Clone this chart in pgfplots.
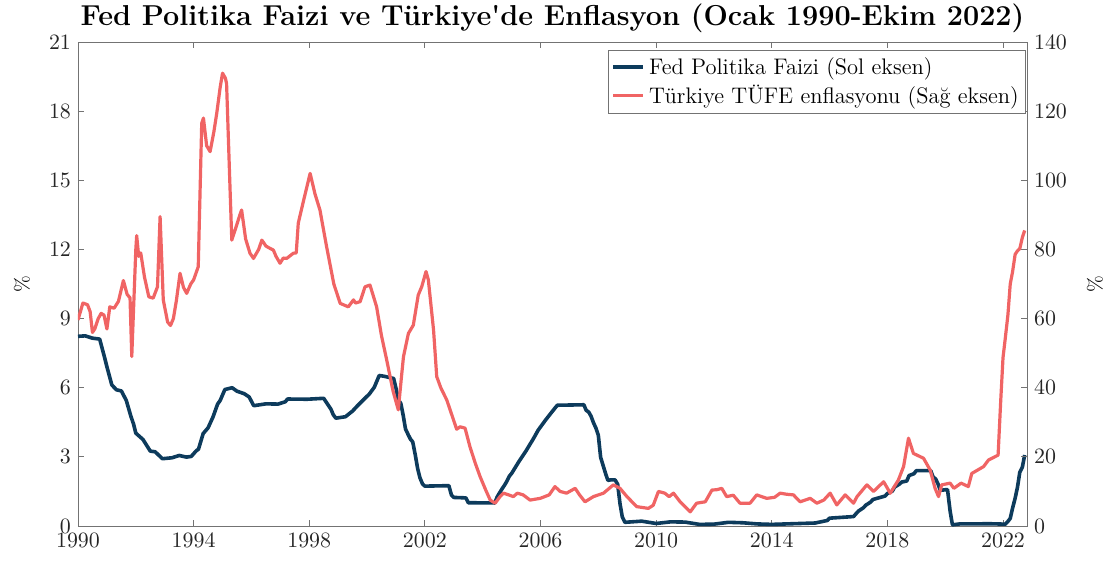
\documentclass[border=0pt]{standalone}
\usepackage{fontspec}
\usepackage{pgfplots}
\usepackage{pgfplotstable}
\pgfplotsset{compat=1.18}
\definecolor{fedblue}{HTML}{0D3B5C}
\definecolor{tred}{HTML}{F06464}

\pgfplotstableread{
x y
1990.00 8.23
1990.25 8.25
1990.50 8.15
1990.75 8.11
1990.92 7.31
1991.00 6.91
1991.17 6.12
1991.33 5.91
1991.50 5.86
1991.67 5.45
1991.83 4.76
1991.92 4.43
1992.00 4.03
1992.25 3.75
1992.50 3.25
1992.67 3.22
1992.92 2.92
1993.25 2.96
1993.50 3.06
1993.75 2.99
1993.92 3.02
1994.08 3.25
1994.17 3.34
1994.33 4.01
1994.50 4.26
1994.67 4.73
1994.83 5.29
1994.92 5.45
1995.08 5.92
1995.33 6.00
1995.50 5.85
1995.75 5.74
1995.92 5.60
1996.08 5.22
1996.50 5.30
1996.92 5.29
1997.17 5.39
1997.25 5.51
1997.92 5.50
1998.50 5.54
1998.75 5.07
1998.83 4.83
1998.92 4.68
1999.25 4.74
1999.50 4.99
1999.67 5.22
1999.83 5.42
2000.08 5.73
2000.25 6.02
2000.42 6.53
2000.58 6.50
2000.92 6.40
2001.00 5.98
2001.08 5.49
2001.17 5.31
2001.25 4.80
2001.33 4.21
2001.42 3.97
2001.50 3.77
2001.58 3.65
2001.67 3.07
2001.75 2.49
2001.83 2.09
2001.92 1.82
2002.00 1.73
2002.83 1.75
2002.92 1.34
2003.00 1.24
2003.42 1.22
2003.50 1.01
2004.42 1.00
2004.50 1.26
2004.58 1.43
2004.67 1.61
2004.75 1.76
2004.83 1.93
2004.92 2.16
2005.00 2.28
2005.25 2.79
2005.50 3.26
2005.75 3.78
2005.92 4.16
2006.17 4.59
2006.42 4.99
2006.58 5.24
2007.50 5.26
2007.58 5.02
2007.67 4.94
2007.75 4.76
2007.83 4.49
2007.92 4.24
2008.00 3.94
2008.08 2.98
2008.17 2.61
2008.25 2.28
2008.33 1.98
2008.42 2.00
2008.58 2.00
2008.67 1.81
2008.75 0.97
2008.83 0.39
2008.92 0.16
2009.50 0.21
2010.00 0.11
2010.50 0.18
2011.00 0.17
2011.50 0.07
2012.00 0.08
2012.50 0.16
2013.00 0.14
2013.50 0.09
2014.00 0.07
2014.50 0.09
2015.00 0.11
2015.50 0.13
2015.92 0.24
2016.00 0.34
2016.83 0.41
2016.92 0.54
2017.00 0.65
2017.17 0.79
2017.25 0.90
2017.42 1.04
2017.50 1.15
2017.92 1.30
2018.00 1.41
2018.17 1.51
2018.25 1.69
2018.42 1.82
2018.50 1.91
2018.67 1.95
2018.75 2.19
2018.92 2.27
2019.00 2.40
2019.50 2.40
2019.58 2.13
2019.67 2.04
2019.75 1.83
2019.83 1.55
2020.08 1.58
2020.17 0.65
2020.25 0.05
2020.50 0.09
2021.00 0.09
2021.50 0.10
2022.08 0.08
2022.17 0.20
2022.25 0.33
2022.33 0.77
2022.42 1.21
2022.50 1.68
2022.58 2.33
2022.67 2.56
2022.75 3.08
}\fedtable

\pgfplotstableread{
x y
1990.00 59.6
1990.17 64.5
1990.33 64
1990.42 62
1990.50 56
1990.58 57
1990.70 60
1990.80 61.5
1990.90 61
1991.00 57
1991.10 63.4
1991.25 63
1991.40 65
1991.57 71
1991.70 67
1991.80 66
1991.86 49
1992.00 80
1992.03 84
1992.10 78
1992.17 79
1992.30 72
1992.45 66.3
1992.60 65.9
1992.75 69.2
1992.84 89.5
1992.95 65.4
1993.10 59
1993.20 58
1993.30 60
1993.40 65
1993.53 73.1
1993.65 69
1993.76 67.3
1993.90 70
1994.00 71.2
1994.16 75
1994.28 116.5
1994.34 118
1994.45 110
1994.57 108.3
1994.70 114
1994.80 119.4
1994.92 127
1995.00 131
1995.10 129.5
1995.14 128
1995.25 100
1995.32 82.7
1995.45 86
1995.60 90
1995.66 91.4
1995.80 83
1995.95 78.9
1996.07 77.4
1996.25 80
1996.36 82.7
1996.50 81
1996.60 80.5
1996.76 79.8
1996.85 78
1996.99 76
1997.10 77.5
1997.22 77.4
1997.45 78.9
1997.55 79
1997.62 87.6
1997.80 94
1998.03 102
1998.20 96
1998.37 91.4
1998.60 80.8
1998.85 70
1999.07 64.4
1999.35 63.4
1999.53 65.4
1999.60 64.5
1999.76 64.9
1999.93 69.2
2000.10 69.7
2000.20 67
2000.33 63.4
2000.50 55
2000.68 48
2000.90 39
2001.08 33.6
2001.20 44
2001.26 49
2001.43 55.7
2001.60 58.1
2001.77 66.8
2001.89 69.2
2002.04 73.6
2002.12 71.2
2002.30 56.7
2002.41 43.2
2002.55 40
2002.76 36.4
2002.99 30.7
2003.10 28
2003.22 28.7
2003.39 28.3
2003.56 22.9
2003.75 18
2003.91 14.3
2004.10 10.5
2004.26 7.5
2004.43 6.6
2004.60 8.5
2004.72 9.5
2004.90 9
2005.06 8.5
2005.20 9.5
2005.40 9.0
2005.64 7.5
2005.99 8.0
2006.30 9
2006.50 11.4
2006.68 10
2006.90 9.5
2007.20 10.9
2007.35 9
2007.54 7
2007.83 8.5
2008.18 9.5
2008.52 11.9
2008.75 10.9
2008.99 8.5
2009.33 5.6
2009.73 5.1
2009.90 6
2010.08 10
2010.30 9.5
2010.45 8.5
2010.60 9.5
2010.83 7
2011.18 4.1
2011.40 6.6
2011.70 7
2011.93 10.4
2012.10 10.5
2012.27 10.9
2012.44 8.5
2012.67 8.9
2012.90 6.6
2013.25 6.6
2013.48 9
2013.65 8.5
2013.83 8
2014.10 8.3
2014.29 9.5
2014.50 9.2
2014.75 9
2014.98 7
2015.33 8.0
2015.56 6.6
2015.80 7.5
2016.02 9.5
2016.25 6.1
2016.54 9
2016.83 6.6
2016.95 8.5
2017.29 11.9
2017.52 10
2017.87 12.8
2018.10 9.5
2018.38 13.3
2018.56 17.2
2018.73 25.4
2018.90 21
2019.25 19.6
2019.48 16.2
2019.65 10.9
2019.77 8.5
2019.88 11.9
2020.17 12.4
2020.30 10.9
2020.55 12.4
2020.80 11.4
2020.92 15.2
2021.33 17.2
2021.50 19.1
2021.83 20.5
2021.92 36.1
2022.00 48.7
2022.08 54.4
2022.17 61.1
2022.25 70.0
2022.33 73.5
2022.42 78.6
2022.50 79.6
2022.58 80.2
2022.67 83.5
2022.75 85.5
}\cpitable

\begin{document}
\begin{tikzpicture}
\pgfplotsset{
  base/.style={
    scale only axis, width=474.5pt, height=242pt,
    xmin=1990, xmax=2022.83,
    xtick={1990,1994,...,2022},
    tick align=inside, major tick length=3pt,
    axis line style={black!55},
    every tick/.style={black!55, line width=0.4pt},
    ticklabel style={font=\fontsize{11.25}{13}\selectfont, text=black!85},
    label style={font=\fontsize{12}{14}\selectfont, text=black!85},
    /pgf/number format/1000 sep={},
  }
}
\useasboundingbox (-39pt,-21.5pt) rectangle (518.5pt,263pt);
\begin{axis}[base,
  ymin=0, ymax=21, ytick={0,3,...,21},
  ytick pos=left, xtick pos=both, xticklabel pos=lower,
  ylabel={\%},
  every axis y label/.style={at={(axis description cs:-0.059,0.5)}, anchor=center, rotate=90},
  title={\bfseries Fed Politika Faizi ve Türkiye\textquotesingle de Enflasyon (Ocak 1990-Ekim 2022)},
  every axis title/.style={at={(axis description cs:0.5,1)}, anchor=base, yshift=8.3pt,
    font=\fontsize{14.4}{17}\selectfont, text=black},
]
\addplot[fedblue, line width=1.8pt, line join=round] table {\fedtable};
\end{axis}
\begin{axis}[base,
  axis x line=none, axis y line*=right,
  ymin=0, ymax=140, ytick={0,20,...,140},
  ylabel={\%},
  every axis y label/.style={at={(axis description cs:1.0717,0.5)}, anchor=center, rotate=90},
  legend style={at={(axis description cs:0.999,0.984)}, anchor=north east,
    draw=black!55, font=\fontsize{11.25}{13.5}\selectfont, inner sep=1.5pt,
    cells={anchor=west}, row sep=0pt},
  legend image code/.code={\draw[#1] (0pt,0pt) -- (15pt,0pt);},
]
\addlegendimage{fedblue, line width=1.8pt}
\addlegendentry{Fed Politika Faizi (Sol eksen)}
\addplot[tred, line width=1.6pt, line join=round] table {\cpitable};
\addlegendentry{Türkiye TÜFE enflasyonu (Sağ eksen)}
\end{axis}
\end{tikzpicture}
\end{document}
